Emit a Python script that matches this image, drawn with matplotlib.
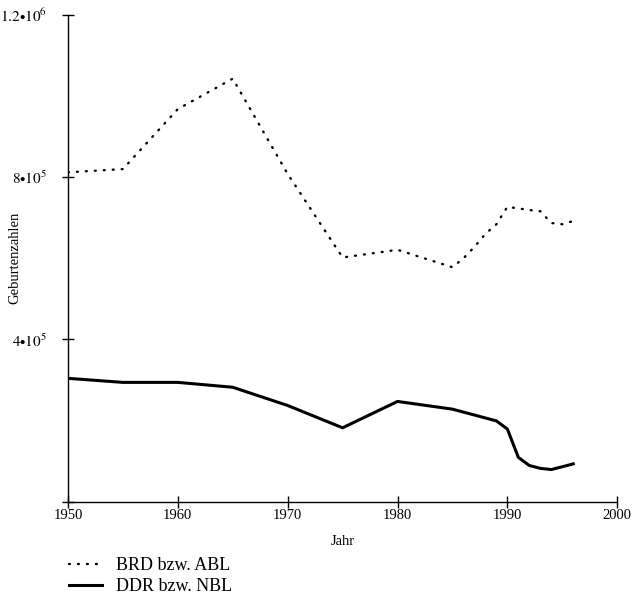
import matplotlib
matplotlib.use('Agg')
import matplotlib.pyplot as plt

plt.rcParams['font.family'] = ['Liberation Serif', 'DejaVu Serif']
plt.rcParams['mathtext.fontset'] = 'stix'

# Geburtenzahlen
brd_years = [1950, 1955, 1960, 1965, 1970, 1975, 1980, 1985, 1986, 1987, 1988,
             1989, 1990, 1991, 1992, 1993, 1994, 1995, 1996]
brd_births = [812000, 820000, 968000, 1043000, 808000, 602000, 621000, 578000,
              600000, 628000, 660000, 684000, 727000, 723000, 719000, 716000,
              687000, 684000, 692000]

ddr_years = [1950, 1955, 1960, 1965, 1970, 1975, 1980, 1985, 1989, 1990,
             1991, 1992, 1993, 1994, 1995, 1996]
ddr_births = [304000, 294000, 294000, 282000, 237000, 182000, 247000, 228000,
              199000, 179000, 109000, 89000, 82000, 79000, 86000, 93000]

x_ticks = [1950, 1960, 1970, 1980, 1990, 2000]
y_ticks = [0, 400000, 800000, 1200000]
y_tick_labels = ['', r'$4{\bullet}10^5$', r'$8{\bullet}10^5$', r'$1.2{\bullet}10^6$']

fig = plt.figure(figsize=(6.35, 6.0), dpi=100)
ax = fig.add_axes([0.107, 0.164, 0.865, 0.811])

brd_line, = ax.plot(brd_years, brd_births, color='black', linewidth=1.7,
                    linestyle=(0, (0.4, 3.4)), dash_capstyle='round',
                    label='BRD bzw. ABL')
ddr_line, = ax.plot(ddr_years, ddr_births, color='black', linewidth=2.2,
                    label='DDR bzw. NBL')

ax.set_xlim(1950, 2000)
ax.set_ylim(0, 1200000)
ax.set_xticks(x_ticks)
ax.set_yticks(y_ticks)
ax.set_yticklabels(y_tick_labels)

for side in ['top', 'right']:
    ax.spines[side].set_visible(False)
for side in ['left', 'bottom']:
    ax.spines[side].set_linewidth(1.0)

ax.tick_params(axis='both', direction='inout', length=8, width=1.0,
               colors='black')
ax.tick_params(axis='x', labelsize=10.5, pad=1)
ax.tick_params(axis='y', labelsize=11, pad=11)

ax.set_xlabel('Jahr', fontsize=10.5, labelpad=10)
ax.set_ylabel('Geburtenzahlen', fontsize=10.5)
ax.yaxis.set_label_coords(-0.085, 0.5)

fig.legend(handles=[brd_line, ddr_line], loc='upper left',
           bbox_to_anchor=(0.109, 0.071), frameon=False, fontsize=13,
           handlelength=1.8, handletextpad=0.8, labelspacing=0.2,
           borderaxespad=0, borderpad=0)

fig.savefig('out.png', dpi=100)
